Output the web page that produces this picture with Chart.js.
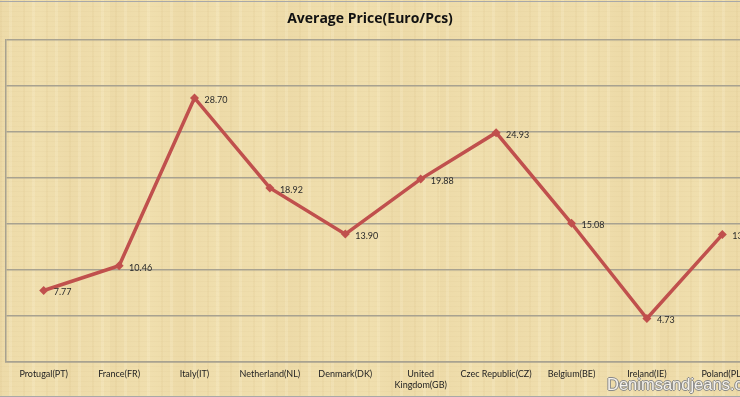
<!DOCTYPE html>
<html>
<head>
<meta charset="utf-8">
<script src="https://cdn.jsdelivr.net/npm/chart.js@4/dist/chart.umd.min.js"></script>
<style>
  html, body { margin: 0; padding: 0; }
  body {
    width: 740px; height: 397px; overflow: hidden; position: relative;
    background-color: #f0dfae;
    background-image:
      repeating-linear-gradient(90deg, rgba(205,175,115,0.10) 0px, rgba(205,175,115,0.10) 2px, transparent 2px, transparent 9px, rgba(255,248,222,0.18) 9px, rgba(255,248,222,0.18) 12px, transparent 12px, transparent 23px),
      repeating-linear-gradient(0deg, rgba(190,160,100,0.06) 0px, rgba(190,160,100,0.06) 1px, transparent 1px, transparent 5px),
      repeating-linear-gradient(90deg, rgba(215,185,125,0.12) 0px, transparent 40px, rgba(215,185,125,0.12) 70px, transparent 110px);
  }
  #frame { position: absolute; left: 0; top: 1px; width: 740px; height: 394px; border-top: 1px solid #a8a8a8; border-bottom: 1px solid #a8a8a8; }
  #wrap { position: absolute; left: 0; top: 0; width: 770px; height: 397px; }
  #title { position: absolute; left: 0; width: 740px; top: 8px; text-align: center; font: bold 14px "Open Sans", sans-serif; color: #111; }
  #mark { position: absolute; left: 607px; top: 375px; font: 16.5px "Liberation Sans", sans-serif; color: #f4f1ea; white-space: nowrap;
    text-shadow: -1px 0 #8a8a8a, 1px 0 #8a8a8a, 0 -1px #8a8a8a, 0 1px #8a8a8a; }
</style>
</head>
<body>
<div id="frame"></div>
<div id="wrap"><canvas id="myChart" width="770" height="397"></canvas></div>
<div id="title">Average Price(Euro/Pcs)</div>
<div id="mark">Denimsandjeans.com</div>
<script>
var countries = ["Protugal(PT)", "France(FR)", "Italy(IT)", "Netherland(NL)", "Denmark(DK)", ["United", "Kingdom(GB)"], "Czec Republic(CZ)", "Belgium(BE)", "Ireland(IE)", "Poland(PL)"];
var avgPrice = [7.77, 10.46, 28.70, 18.92, 13.90, 19.88, 24.93, 15.08, 4.73, 13.85];
var yMin = 0, yMax = 35, yStep = 5;

const valueLabels = {
  id: "valueLabels",
  afterDatasetsDraw(chart) {
    const ctx = chart.ctx;
    const meta = chart.getDatasetMeta(0);
    ctx.save();
    ctx.font = "9px Lato, sans-serif";
    ctx.fillStyle = "#2a2a2a";
    ctx.textBaseline = "middle";
    meta.data.forEach((pt, i) => {
      ctx.fillText(avgPrice[i].toFixed(2), pt.x + 10, pt.y + 2);
    });
    ctx.restore();
  }
};

new Chart("myChart", {
  type: "line",
  data: {
    labels: countries,
    datasets: [{
      data: avgPrice,
      borderColor: "#c0504d",
      backgroundColor: "#c0504d",
      borderWidth: 3.5,
      pointStyle: "rectRot",
      pointRadius: 4.5,
      pointBorderWidth: 0,
      fill: false,
      tension: 0
    }]
  },
  options: {
    responsive: false,
    animation: false,
    layout: { padding: { left: 6, right: 10, top: 40, bottom: 0 } },
    plugins: { legend: { display: false }, tooltip: { enabled: false } },
    scales: {
      x: {
        offset: true,
        grid: { display: false, drawTicks: false },
        border: { display: true, color: "#a8a290", width: 1.5 },
        ticks: { color: "#222", font: { family: "Lato", size: 9 }, padding: 7, maxRotation: 0, autoSkip: false },
        afterFit: (s) => { s.height = 35; }
      },
      y: {
        min: yMin, max: yMax,
        ticks: { display: false, stepSize: yStep },
        grid: { color: "#a8a290", lineWidth: 1.5, drawTicks: false },
        border: { display: true, color: "#a8a290", width: 1.5 },
        afterFit: (s) => { s.width = 0; }
      }
    }
  },
  plugins: [valueLabels]
});
</script>
</body>
</html>
